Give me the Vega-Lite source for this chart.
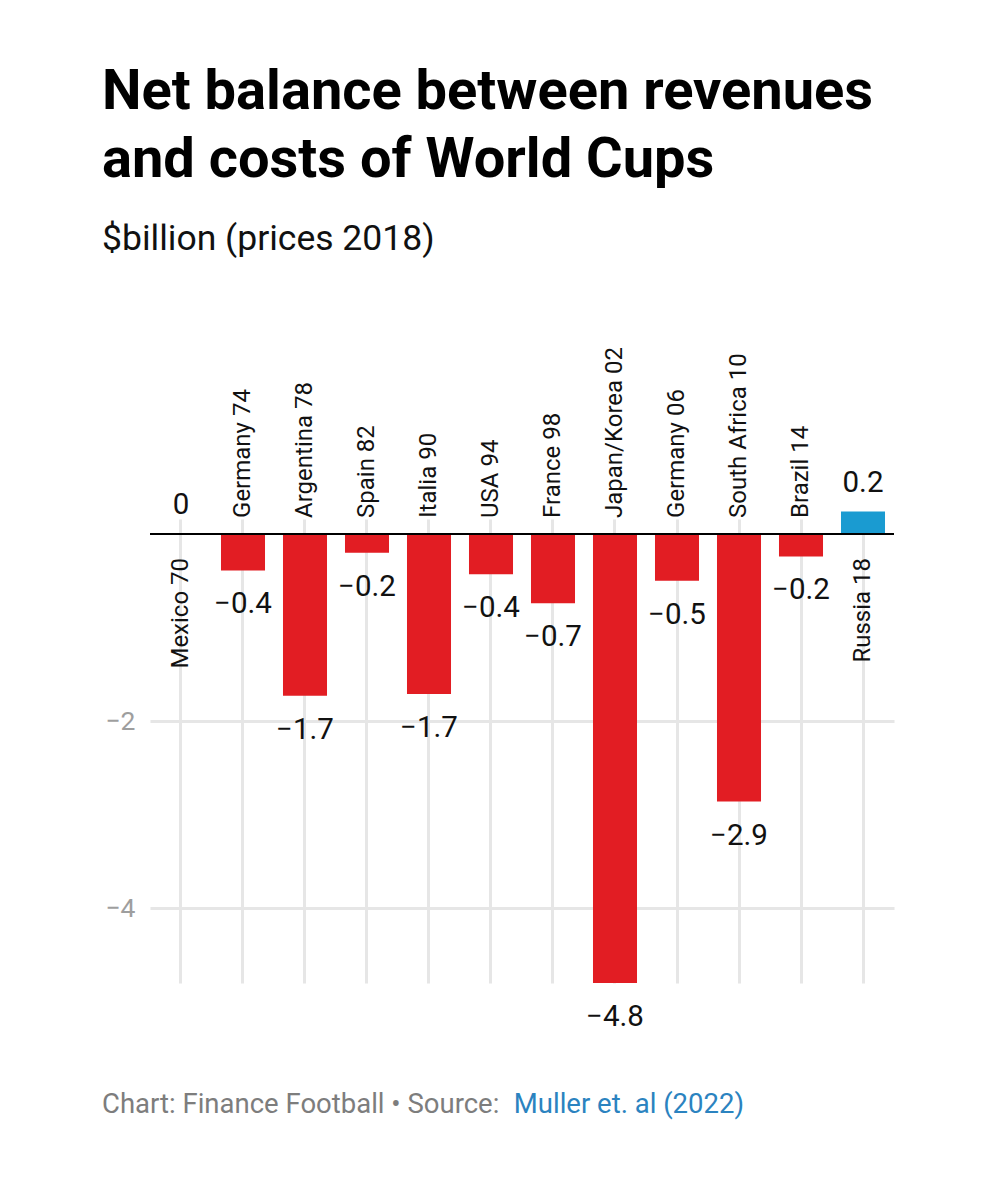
{
  "$schema": "https://vega.github.io/schema/vega-lite/v6.json",
  "width": 744,
  "height": 464,
  "padding": {"left": 101, "top": 64, "right": 99, "bottom": 60},
  "background": "white",
  "config": {"view": {"stroke": null}, "font": "Roboto"},
  "title": {
    "text": ["Net balance between revenues", "and costs of World Cups"],
    "subtitle": "$billion (prices 2018)",
    "anchor": "start",
    "frame": "bounds",
    "font": "Roboto",
    "fontSize": 56,
    "fontWeight": "bold",
    "color": "#000000",
    "lineHeight": 68,
    "subtitleFont": "Roboto",
    "subtitleFontSize": 35.5,
    "subtitleColor": "#111111",
    "subtitlePadding": 33,
    "offset": 88
  },
  "data": {
    "values": [
      {"cup": "Mexico 70", "value": 0},
      {"cup": "Germany 74", "value": -0.39},
      {"cup": "Argentina 78", "value": -1.73},
      {"cup": "Spain 82", "value": -0.2},
      {"cup": "Italia 90", "value": -1.71},
      {"cup": "USA 94", "value": -0.43},
      {"cup": "France 98", "value": -0.74},
      {"cup": "Japan/Korea 02", "value": -4.8},
      {"cup": "Germany 06", "value": -0.5},
      {"cup": "South Africa 10", "value": -2.86},
      {"cup": "Brazil 14", "value": -0.24},
      {"cup": "Russia 18", "value": 0.24}
    ]
  },
  "layer": [
    {
      "mark": {"type": "bar"},
      "encoding": {
        "x": {
          "field": "cup",
          "type": "nominal",
          "sort": null,
          "scale": {"paddingInner": 0.29, "paddingOuter": 0.145},
          "axis": {"grid": true, "gridColor": "#e6e6e6", "gridWidth": 3, "domain": false, "ticks": false, "labels": false, "title": null}
        },
        "y": {
          "field": "value",
          "type": "quantitative",
          "scale": {"domain": [-4.8, 0.16], "nice": false, "zero": false},
          "axis": {"values": [-2, -4], "format": "d", "grid": true, "gridColor": "#e6e6e6", "gridWidth": 3, "domain": false, "ticks": false, "labelFontSize": 26.5, "labelColor": "#9e9e9e", "labelPadding": 15, "labelFont": "Roboto", "title": null}
        },
        "color": {"condition": {"test": "datum.value > 0", "value": "#1a9bd1"}, "value": "#e21d23"}
      }
    },
    {
      "mark": {"type": "rule", "color": "#000000", "strokeWidth": 2},
      "encoding": {"y": {"datum": 0, "type": "quantitative"}}
    },
    {
      "transform": [{"filter": "datum.value < 0"}],
      "mark": {"type": "text", "angle": 270, "align": "left", "baseline": "middle", "dx": 16, "fontSize": 24, "font": "Roboto", "color": "#111111"},
      "encoding": {
        "x": {"field": "cup", "type": "nominal", "sort": null},
        "y": {"datum": 0, "type": "quantitative"},
        "text": {"field": "cup"}
      }
    },
    {
      "transform": [{"filter": "datum.value >= 0"}],
      "mark": {"type": "text", "angle": 270, "align": "right", "baseline": "middle", "dx": -24, "fontSize": 24, "font": "Roboto", "color": "#111111"},
      "encoding": {
        "x": {"field": "cup", "type": "nominal", "sort": null},
        "y": {"datum": 0, "type": "quantitative"},
        "text": {"field": "cup"}
      }
    },
    {
      "transform": [{"filter": "datum.value < 0"}],
      "mark": {"type": "text", "baseline": "alphabetic", "align": "center", "dy": 43, "fontSize": 29.5, "font": "Roboto", "color": "#111111"},
      "encoding": {
        "x": {"field": "cup", "type": "nominal", "sort": null},
        "y": {"field": "value", "type": "quantitative"},
        "text": {"field": "value", "type": "quantitative", "format": ".1~f"}
      }
    },
    {
      "transform": [{"filter": "datum.value >= 0"}],
      "mark": {"type": "text", "baseline": "alphabetic", "align": "center", "dy": -20, "fontSize": 29.5, "font": "Roboto", "color": "#111111"},
      "encoding": {
        "x": {"field": "cup", "type": "nominal", "sort": null},
        "y": {"field": "value", "type": "quantitative"},
        "text": {"field": "value", "type": "quantitative", "format": ".1~f"}
      }
    },
    {
      "data": {"values": [{}]},
      "mark": {"type": "text", "text": "Chart: Finance Football • Source:", "align": "left", "baseline": "alphabetic", "dx": -79, "fontSize": 27.5, "font": "Roboto", "color": "#7d7d7d"},
      "encoding": {
        "x": {"datum": "Mexico 70", "type": "nominal"},
        "y": {"datum": -6.19, "type": "quantitative"}
      }
    },
    {
      "data": {"values": [{}]},
      "mark": {"type": "text", "text": "Muller et. al (2022)", "align": "right", "baseline": "alphabetic", "dx": 563, "fontSize": 27.5, "font": "Roboto", "color": "#2b83c0"},
      "encoding": {
        "x": {"datum": "Mexico 70", "type": "nominal"},
        "y": {"datum": -6.19, "type": "quantitative"}
      }
    }
  ]
}
